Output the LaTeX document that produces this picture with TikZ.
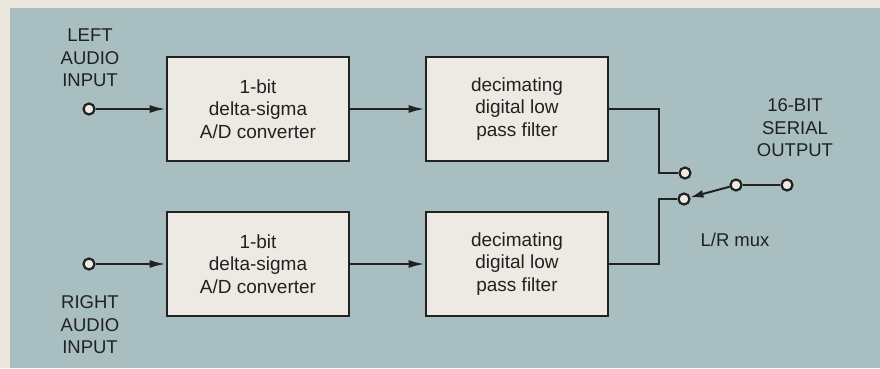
\documentclass[tikz,border=0pt]{standalone}
\usepackage{fontspec}
\setmainfont{Liberation Sans}
\usetikzlibrary{arrows.meta}
\definecolor{cream}{RGB}{234,231,220}
\definecolor{panel}{RGB}{168,190,192}
\definecolor{boxfill}{RGB}{236,234,226}
\definecolor{ink}{RGB}{32,34,34}
\tikzset{
  blk/.style={draw=ink, line width=2.8pt, fill=boxfill, minimum width=182pt, minimum height=104pt, align=center, font=\fontsize{19}{22.5}\selectfont, text=ink, inner sep=0pt},
  term/.style={circle, draw=ink, line width=2.2pt, fill=boxfill, minimum size=11pt, inner sep=0pt},
  wire/.style={draw=ink, line width=2pt},
  arr/.style={wire, -{Latex[length=16pt,width=8pt]}},
  lbl/.style={align=center, text=ink, font=\fontsize{18.5}{22.5}\selectfont, inner sep=0pt}
}
\begin{document}
\begin{tikzpicture}[x=1pt,y=-1pt]
\useasboundingbox (0,0) rectangle (880,368);
\fill[cream] (0,0) rectangle (880,368);
\fill[panel] (10,8) rectangle (880,368);

\node[blk] (b1) at (258,109) {1-bit\\delta-sigma\\A/D converter};
\node[blk] (b2) at (517,109) {decimating\\digital low\\pass filter};
\node[blk] (b3) at (258,264) {1-bit\\delta-sigma\\A/D converter};
\node[blk] (b4) at (517,264) {decimating\\digital low\\pass filter};

\node[term] (inL) at (89,109) {};
\node[term] (inR) at (89,264) {};
\node[term] (cU) at (685,173) {};
\node[term] (cD) at (684,199) {};
\node[term] (piv) at (736,185) {};
\node[term] (out) at (787,185) {};

\node[lbl] (tL) at (90,58) {LEFT\\AUDIO\\INPUT};
\node[lbl] (tR) at (90,325) {RIGHT\\AUDIO\\INPUT};
\node[lbl] (tO) at (795,128) {16-BIT\\SERIAL\\OUTPUT};
\node[lbl] (tM) at (735,240) {L/R mux};

\draw[arr] (inL) -- (b1.west);
\draw[arr] (inR) -- (b3.west);
\draw[arr] (b1.east) -- (b2.west);
\draw[arr] (b3.east) -- (b4.west);

\draw[wire] (b2.east) -| (659,173) -- (cU);
\draw[wire] (b4.east) -| (659,199) -- (cD);
\draw[wire, -{Latex[length=13pt,width=8pt]}] (piv) -- (cD);
\draw[wire] (piv) -- (out);
\end{tikzpicture}
\end{document}
